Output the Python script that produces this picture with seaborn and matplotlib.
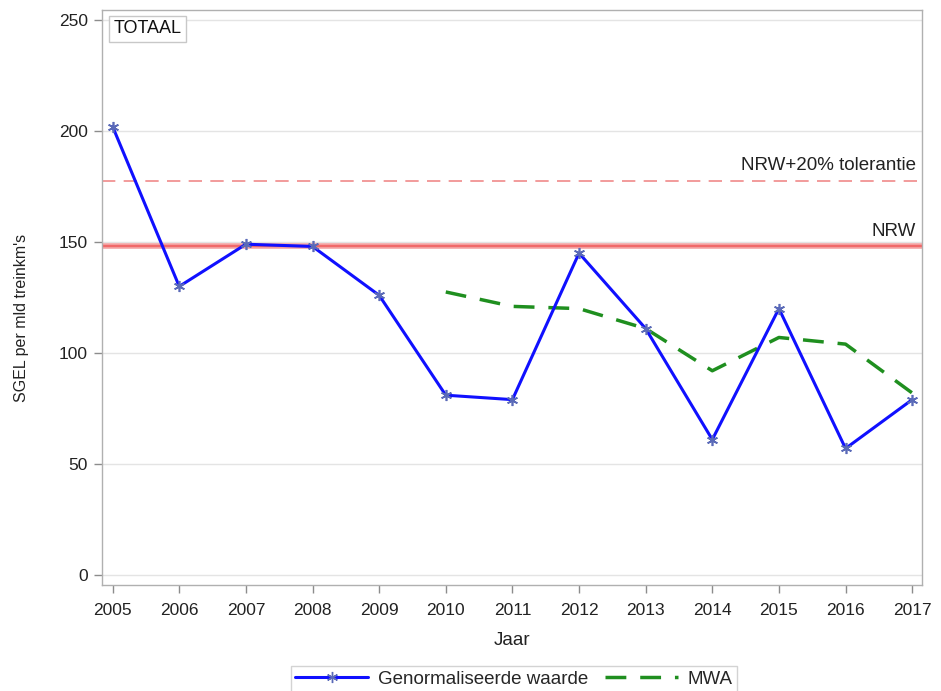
import pandas as pd
import numpy as np
import matplotlib
matplotlib.use('Agg')
import matplotlib.pyplot as plt
from matplotlib.lines import Line2D
import seaborn as sns

jaren = list(range(2005, 2018))
genormaliseerd = [202, 130, 149, 148, 126, 81, 79, 145, 111, 61, 120, 57, 79]
mwa_jaren = list(range(2010, 2018))
mwa = [127.5, 121, 120, 111, 92, 107, 104, 82]
nrw = 148
nrw_tol = 177.5

sns.set_style('white', {'xtick.bottom': True, 'ytick.left': True})
plt.rcParams['font.family'] = ['Liberation Sans', 'DejaVu Sans']
plt.rcParams['font.size'] = 12

df = pd.DataFrame({'Jaar': jaren, 'waarde': genormaliseerd})
df_mwa = pd.DataFrame({'Jaar': mwa_jaren, 'MWA': mwa})

fig = plt.figure(figsize=(9.41, 6.91), dpi=100)
ax = fig.add_axes([0.108, 0.1534, 0.872, 0.8321])

for y in [0, 50, 100, 150, 200, 250]:
    ax.axhline(y, color='#e4e4e4', lw=1, zorder=0)

ax.axhline(nrw, color='#f4a0a0', lw=4, zorder=1)
ax.axhline(nrw, color='#f06a6a', lw=1.5, zorder=1)
ax.axhline(nrw_tol, color='#f08a8a', lw=1.2, dashes=(8, 5), zorder=1)

sns.lineplot(data=df, x='Jaar', y='waarde', ax=ax, color='#1010ff', lw=2.2,
             marker=(6, 2, 0), markersize=8, markeredgecolor='#5a6ab8',
             markeredgewidth=1.2, zorder=3)
sns.lineplot(data=df_mwa, x='Jaar', y='MWA', ax=ax, color='#1f8f1f', lw=2.5,
             dashes=False, zorder=2)
ax.lines[-1].set_dashes((6, 4))

ax.text(2017.05, nrw_tol + 3, 'NRW+20% tolerantie', ha='right', va='bottom',
        fontsize=13.5, color='#222222')
ax.text(2017.05, nrw + 3, 'NRW', ha='right', va='bottom',
        fontsize=13.5, color='#222222')
ax.text(2005.02, 246, 'TOTAAL', ha='left', va='center', fontsize=13,
        color='#111111',
        bbox=dict(boxstyle='square,pad=0.25', fc='white', ec='#c8c8c8', lw=1))

ax.set_xlim(2004.835, 2017.15)
ax.set_ylim(-4.5, 254.5)
ax.set_xticks(jaren)
ax.set_yticks([0, 50, 100, 150, 200, 250])
ax.tick_params(axis='both', direction='out', length=6, width=1, color='#8c8c8c',
               labelsize=12.5, labelcolor='#222222', pad=4)
ax.tick_params(axis='x', pad=7)
for s in ax.spines.values():
    s.set_color('#b0b0b0')
    s.set_linewidth(1)
ax.set_xlabel('Jaar', fontsize=13.5, labelpad=10, color='#222222')
ax.set_ylabel("SGEL per mld treinkm's", fontsize=11.5, color='#222222')
ax.yaxis.set_label_coords(-0.088, 0.465)

handles = [
    Line2D([], [], color='#1010ff', lw=2.2, marker=(6, 2, 0), markersize=8,
           markeredgecolor='#5a6ab8', label='Genormaliseerde waarde'),
    Line2D([], [], color='#1f8f1f', lw=2.5, dashes=(6, 4), label='MWA'),
]
leg = fig.legend(handles=handles, loc='center', bbox_to_anchor=(0.546, 0.017), ncol=2,
                 frameon=True, fancybox=False, edgecolor='#c8c8c8', fontsize=13.5,
                 handlelength=3.9, handletextpad=0.5, columnspacing=0.9,
                 borderpad=0.25, numpoints=1)
leg.get_frame().set_linewidth(1)

fig.savefig('out.png', dpi=100)
